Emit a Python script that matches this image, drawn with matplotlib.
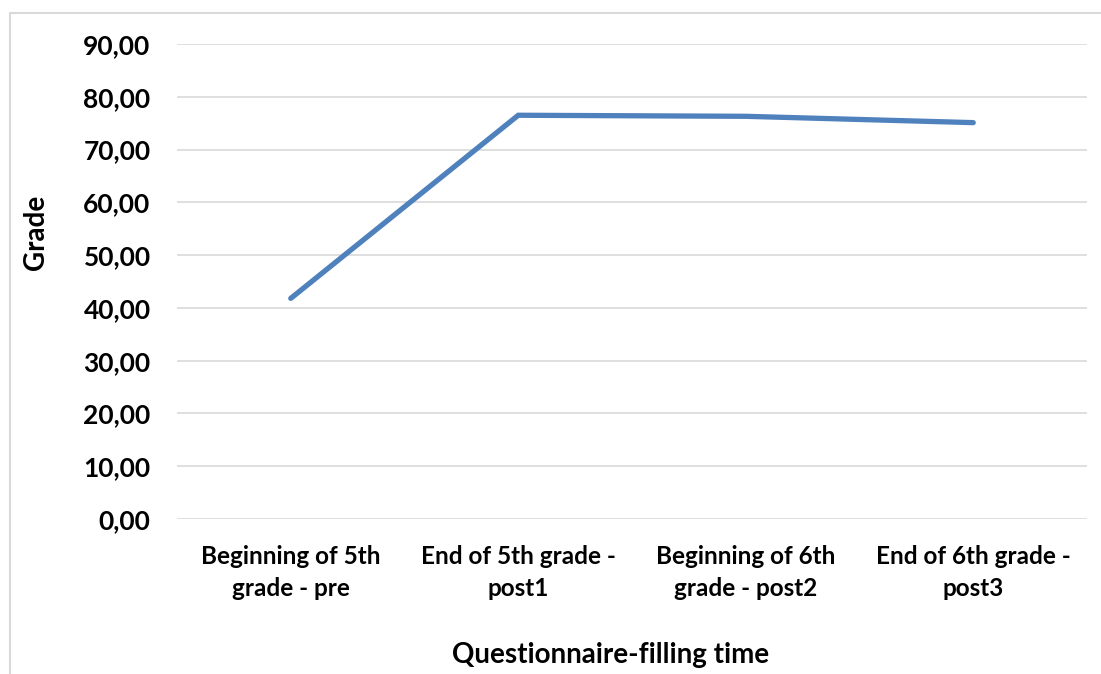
import matplotlib.pyplot as plt
from matplotlib.patches import Rectangle

# Data
categorias = ["Beginning of 5th\ngrade - pre", "End of 5th grade -\npost1",
              "Beginning of 6th\ngrade - post2", "End of 6th grade -\npost3"]
notas = [41.8, 76.5, 76.3, 75.1]
yticks = [0, 10, 20, 30, 40, 50, 60, 70, 80, 90]

plt.rcParams['font.family'] = ['Lato', 'DejaVu Sans']

fig = plt.figure(figsize=(11.01, 6.74), dpi=100)
ax = fig.add_axes([177/1101, 1 - 519/674, (1087 - 177)/1101, (519 - 44)/674])

x = list(range(len(categorias)))
ax.plot(x, notas, color="#4f81bd", linewidth=3.8, solid_capstyle="round",
        solid_joinstyle="miter", zorder=3)

ax.set_xlim(-0.5, len(categorias) - 0.5)
ax.set_ylim(0, 90)
ax.set_yticks(yticks)
ax.set_yticklabels([f"{v:.2f}".replace(".", ",") for v in yticks],
                   fontsize=19, fontweight="bold")
ax.set_xticks(x)
ax.set_xticklabels(categorias, fontsize=17.5, fontweight="bold", linespacing=1.45)

ax.grid(axis="y", color="#d9d9d9", linewidth=1.2)
ax.set_axisbelow(True)
for s in ax.spines.values():
    s.set_visible(False)
ax.tick_params(axis="both", length=0)
ax.tick_params(axis="y", pad=19)
ax.tick_params(axis="x", pad=19)

ax.set_ylabel("Grade", fontsize=20, fontweight="bold")
ax.yaxis.set_label_coords((49 - 177)/910, (519 - 232)/475)
ax.set_xlabel("Questionnaire-filling time", fontsize=20, fontweight="bold")
ax.xaxis.set_label_coords((611 - 177)/910, -(642 - 519)/475)

# marco gris del area del grafico
fig.patches.append(Rectangle((10/1101, -0.1), 1.2, 1 - 13/674 + 0.1,
                             transform=fig.transFigure, fill=False,
                             edgecolor="#d9d9d9", linewidth=1.5))

fig.savefig("out.png", dpi=100)
